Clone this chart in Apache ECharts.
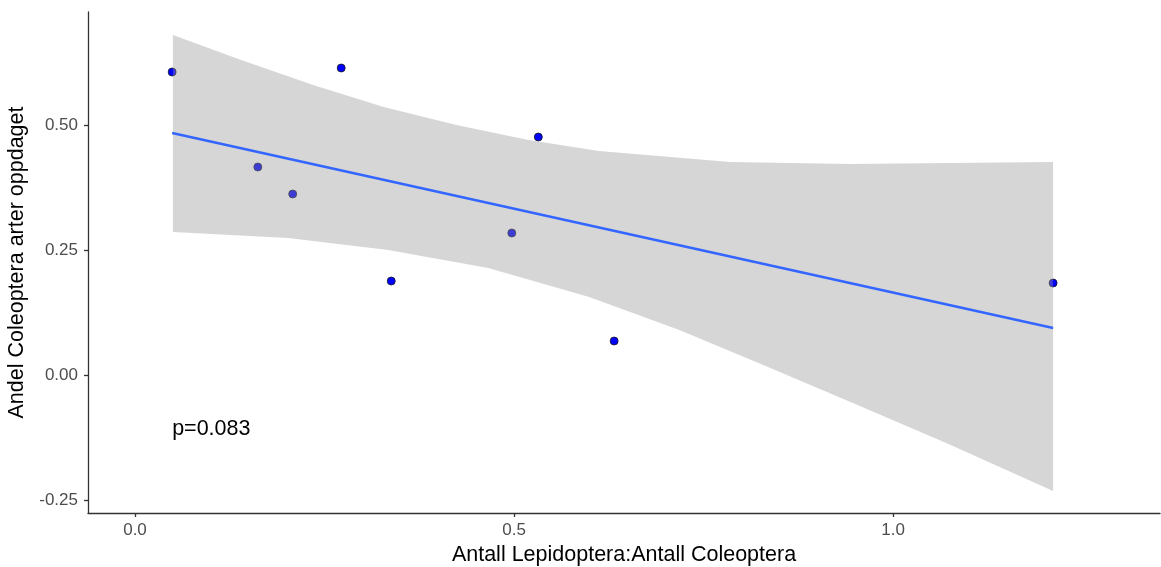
<!DOCTYPE html>
<html><head><meta charset="utf-8">
<script src="https://cdn.jsdelivr.net/npm/echarts@6/dist/echarts.min.js"></script>
<style>html,body{margin:0;padding:0;background:#fff}#c{width:1161px;height:567px}</style>
</head><body><div id="c"></div>
<script>
// observed points
const pointX = [0.049, 0.162, 0.208, 0.272, 0.338, 0.497, 0.532, 0.632, 1.211];
const pointY = [0.606, 0.416, 0.362, 0.614, 0.188, 0.284, 0.476, 0.068, 0.184];
// fitted line endpoints
const fitX = [0.049, 1.211];
const fitY = [0.484, 0.094];
// confidence band edges
const upperX = [0.050, 0.140, 0.235, 0.328, 0.424, 0.519, 0.612, 0.706, 0.785, 0.943, 1.211];
const upperY = [0.680, 0.630, 0.580, 0.536, 0.500, 0.470, 0.448, 0.436, 0.426, 0.422, 0.426];
const lowerX = [0.050, 0.202, 0.334, 0.466, 0.599, 0.718, 0.835, 0.953, 1.070, 1.211];
const lowerY = [0.286, 0.274, 0.250, 0.214, 0.156, 0.090, 0.016, -0.060, -0.136, -0.232];
// ticks
const xTicks = [0, 0.5, 1.0];
const yTicks = [-0.25, 0, 0.25, 0.5];
const pLabel = 'p=0.083';
const pPos = [0.049, -0.108];

const FONT = 'Liberation Sans, Arial, sans-serif';
const chart = echarts.init(document.getElementById('c'), null, {renderer: 'canvas'});
const bandPoly = upperX.map((x, i) => [x, upperY[i]]).concat(
  lowerX.map((x, i) => [x, lowerY[i]]).reverse());

const axisCommon = {
  axisLine: {show: true, onZero: false, lineStyle: {color: '#333333', width: 1.3}},
  axisTick: {show: true, length: 4, inside: false, lineStyle: {color: '#333333', width: 1.3}},
  splitLine: {show: false},
  nameTextStyle: {color: '#000', fontSize: 21.5, fontFamily: FONT}
};

chart.setOption({
  animation: false,
  backgroundColor: '#ffffff',
  grid: {left: 88, right: 1, top: 12, bottom: 54, containLabel: false, outerBoundsMode: 'none'},
  xAxis: Object.assign({}, axisCommon, {
    type: 'value', min: -0.062, max: 1.352,
    name: 'Antall Lepidoptera:Antall Coleoptera', nameLocation: 'middle', nameGap: 31,
    axisTick: Object.assign({}, axisCommon.axisTick, {customValues: xTicks}),
    axisLabel: {customValues: xTicks, color: '#4D4D4D', fontSize: 17, margin: 9,
      fontFamily: FONT, formatter: v => v.toFixed(1)}
  }),
  yAxis: Object.assign({}, axisCommon, {
    type: 'value', min: -0.276, max: 0.726,
    name: 'Andel Coleoptera arter oppdaget', nameLocation: 'middle', nameGap: 48,
    axisTick: Object.assign({}, axisCommon.axisTick, {customValues: yTicks}),
    axisLabel: {customValues: yTicks, color: '#4D4D4D', fontSize: 17, margin: 10,
      fontFamily: FONT, formatter: v => v.toFixed(2)}
  }),
  series: [
    {
      type: 'scatter', z: 1,
      data: pointX.map((x, i) => [x, pointY[i]]),
      symbolSize: 8,
      itemStyle: {color: '#0000FF', borderColor: '#1a1a1a', borderWidth: 0.8, opacity: 1}
    },
    {
      type: 'custom', z: 2, silent: true,
      data: [0],
      renderItem: function (params, api) {
        const pts = bandPoly.map(p => api.coord(p));
        return {type: 'polygon', shape: {points: pts},
          style: {fill: 'rgba(153,153,153,0.4)', stroke: null}};
      }
    },
    {
      type: 'line', z: 3, data: fitX.map((x, i) => [x, fitY[i]]),
      symbol: 'none', lineStyle: {color: '#3366FF', width: 2.6}
    },
    {
      type: 'scatter', z: 4, data: [pPos], symbolSize: 0, silent: true,
      itemStyle: {opacity: 1},
      label: {show: true, position: 'inside', align: 'left', verticalAlign: 'middle',
        formatter: pLabel, color: '#000000', opacity: 1, fontSize: 21.5, fontFamily: FONT}
    }
  ]
});
</script></body></html>
